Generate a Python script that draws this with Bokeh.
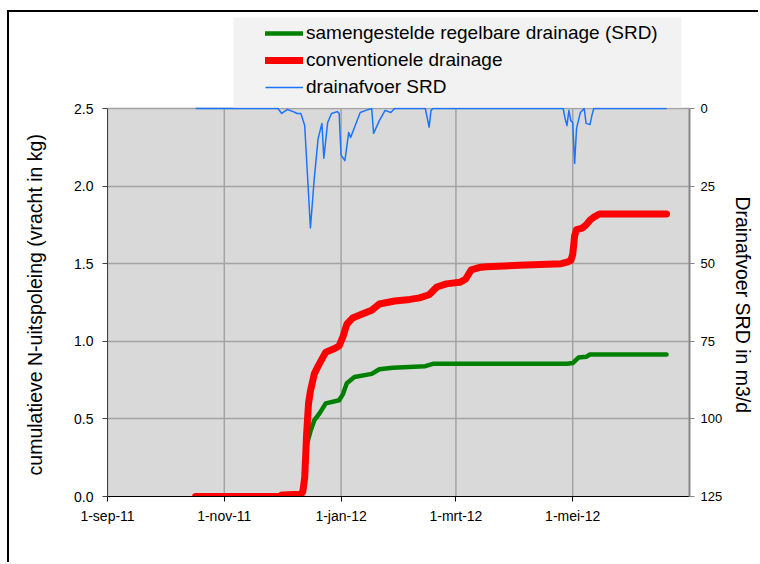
import pandas as pd
from bokeh.plotting import figure
from bokeh.models import (LinearAxis, Range1d, FixedTicker, Legend, LegendItem,
                          BoxAnnotation, NumeralTickFormatter)
from bokeh.embed import file_html
from bokeh.resources import INLINE

# ---------------- data ----------------
srd_dates = ["2011-10-17", "2011-11-30", "2011-12-01", "2011-12-11", "2011-12-12",
             "2011-12-13", "2011-12-14", "2011-12-16", "2011-12-18", "2011-12-21",
             "2011-12-24", "2011-12-31", "2012-01-02", "2012-01-04", "2012-01-08",
             "2012-01-17", "2012-01-21", "2012-01-28", "2012-02-14", "2012-02-18",
             "2012-04-28", "2012-05-01", "2012-05-04", "2012-05-08", "2012-05-10",
             "2012-06-19"]
srd_values = [0.0, 0.0, 0.01, 0.015, 0.03,
              0.12, 0.33, 0.42, 0.49, 0.54,
              0.60, 0.62, 0.66, 0.73, 0.77,
              0.79, 0.82, 0.83, 0.84, 0.855,
              0.855, 0.86, 0.895, 0.90, 0.915,
              0.915]

conv_dates = ["2011-10-17", "2011-11-30", "2011-12-01", "2011-12-11", "2011-12-12",
              "2011-12-13", "2011-12-14", "2011-12-15", "2011-12-16", "2011-12-18",
              "2011-12-20", "2011-12-24", "2011-12-28", "2011-12-31", "2012-01-02",
              "2012-01-04", "2012-01-07", "2012-01-13", "2012-01-17", "2012-01-21",
              "2012-01-29", "2012-02-06", "2012-02-11", "2012-02-16", "2012-02-20",
              "2012-02-25", "2012-03-03", "2012-03-06", "2012-03-09", "2012-03-13",
              "2012-03-17", "2012-04-03", "2012-04-25", "2012-04-28", "2012-04-30",
              "2012-05-01", "2012-05-02", "2012-05-03", "2012-05-06", "2012-05-08",
              "2012-05-10", "2012-05-12", "2012-05-15", "2012-06-19"]
conv_values = [0.0, 0.0, 0.01, 0.015, 0.03,
               0.12, 0.40, 0.60, 0.68, 0.79,
               0.84, 0.93, 0.95, 0.97, 1.03,
               1.11, 1.15, 1.18, 1.20, 1.24,
               1.26, 1.27, 1.28, 1.30, 1.35,
               1.37, 1.38, 1.40, 1.46, 1.475,
               1.48, 1.49, 1.50, 1.51, 1.52,
               1.56, 1.68, 1.72, 1.73, 1.75,
               1.78, 1.80, 1.82, 1.82]

flow_dates = ["2011-10-17", "2011-11-29", "2011-12-01", "2011-12-04", "2011-12-07",
              "2011-12-09", "2011-12-11", "2011-12-13", "2011-12-16", "2011-12-18",
              "2011-12-20", "2011-12-22", "2011-12-23", "2011-12-25", "2011-12-27",
              "2011-12-30", "2011-12-31", "2012-01-01", "2012-01-03", "2012-01-05",
              "2012-01-06", "2012-01-09", "2012-01-11", "2012-01-14", "2012-01-17",
              "2012-01-18", "2012-01-21", "2012-01-24", "2012-01-27", "2012-01-29",
              "2012-02-14", "2012-02-16", "2012-02-17", "2012-02-18", "2012-04-26",
              "2012-04-27", "2012-04-28", "2012-04-29", "2012-04-30", "2012-05-01",
              "2012-05-02", "2012-05-03", "2012-05-05", "2012-05-07", "2012-05-08",
              "2012-05-10", "2012-05-11", "2012-05-12", "2012-06-19"]
flow_values = [0.0, 0.0, 1.6, 0.3, 1.0,
               1.6, 1.6, 5.5, 38.5, 22.6,
               9.7, 4.8, 16.0, 4.5, 1.6,
               1.0, 1.6, 15.0, 16.8, 7.7,
               9.3, 4.5, 1.3, 0.6, 0.0,
               8.0, 3.9, 0.6, 1.3, 0.0,
               0.0, 6.0, 0.6, 0.0, 0.0,
               3.2, 5.5, 0.6, 3.9, 4.5,
               17.7, 6.4, 1.3, 0.0, 4.8,
               5.2, 2.3, 0.0, 0.0]

x_start, x_end = "2011-09-01", "2012-07-01"
x_tick_dates = ["2011-09-01", "2011-11-01", "2012-01-01", "2012-03-01", "2012-05-01"]
x_tick_labels = ["1-sep-11", "1-nov-11", "1-jan-12", "1-mrt-12", "1-mei-12"]
y_ticks = [0.0, 0.5, 1.0, 1.5, 2.0, 2.5]
y2_ticks = [0, 25, 50, 75, 100, 125]

legend_labels = ["samengestelde regelbare drainage (SRD)", "conventionele drainage",
                 "drainafvoer SRD"]
y_label = "cumulatieve N-uitspoleing (vracht in kg)"
y2_label = "Drainafvoer SRD in m3/d"


def ms(d):
    return int(pd.Timestamp(d).value // 10**6)


FONT = "Liberation Sans"
PAD = "\u00a0" * 18   # keeps the axis titles centred on the grey plot area

# ---------------- layout geometry (pixels) ----------------
FRAME_H = 481      # frame spans the legend area plus the plot area
PLOT_H = 388       # height of the grey plot area
y_top = y_ticks[-1] * FRAME_H / PLOT_H
q_top = -y2_ticks[-1] * (FRAME_H - PLOT_H) / PLOT_H

p = figure(width=751, height=552, output_backend="svg", toolbar_location=None,
           x_axis_type="datetime",
           x_range=Range1d(ms(x_start), ms(x_end)), y_range=Range1d(0, y_top),
           min_border_left=98, min_border_right=71, min_border_top=3,
           min_border_bottom=68,
           styles={"border-left": "2px solid black", "border-top": "2px solid black",
                   "margin-left": "7px", "margin-top": "10px"})
p.background_fill_color = "white"
p.border_fill_color = "white"
p.outline_line_color = None

p.extra_y_ranges = {"q": Range1d(y2_ticks[-1], q_top)}

# grey plot area
p.add_layout(BoxAnnotation(left=ms(x_start), right=ms(x_end),
                           bottom=y_ticks[0], top=y_ticks[-1],
                           fill_color="#d9d9d9", fill_alpha=1, line_color=None,
                           level="image"))

# x axis
xt = FixedTicker(ticks=[ms(d) for d in x_tick_dates])
p.xaxis.ticker = xt
p.xaxis.major_label_overrides = {ms(d): l for d, l in zip(x_tick_dates, x_tick_labels)}
p.xaxis.axis_line_color = "black"
p.xaxis.major_tick_line_color = "black"
p.xaxis.major_tick_out = 5
p.xaxis.major_tick_in = 0
p.xaxis.minor_tick_line_color = None
p.xaxis.major_label_standoff = 6
p.xaxis.major_label_text_font = FONT
p.xaxis.major_label_text_font_size = "14px"
p.xaxis.major_label_text_color = "black"
p.xgrid.visible = False

# vertical grid lines limited to the plot area
n = len(x_tick_dates)
p.segment(x0=[ms(d) for d in x_tick_dates], y0=[y_ticks[0]] * n,
          x1=[ms(d) for d in x_tick_dates], y1=[y_ticks[-1]] * n,
          line_color="#a3a3a3", line_width=1.5, level="underlay")

# left axis
yt = FixedTicker(ticks=y_ticks)
p.yaxis.ticker = yt
p.ygrid.ticker = yt
p.yaxis.bounds = (y_ticks[0], y_ticks[-1])
p.yaxis.formatter = NumeralTickFormatter(format="0.0")
p.yaxis.axis_label = y_label + PAD
p.yaxis.axis_label_text_font = FONT
p.yaxis.axis_label_text_font_size = "19.5px"
p.yaxis.axis_label_text_font_style = "normal"
p.yaxis.axis_label_text_color = "black"
p.yaxis.axis_label_standoff = 25
p.yaxis.axis_line_color = "#404040"
p.yaxis.major_tick_line_color = "#404040"
p.yaxis.major_tick_out = 5
p.yaxis.major_tick_in = 0
p.yaxis.minor_tick_line_color = None
p.yaxis.major_label_standoff = 9
p.yaxis.major_label_text_font = FONT
p.yaxis.major_label_text_font_size = "14px"
p.yaxis.major_label_text_color = "black"

p.ygrid.grid_line_color = "#a3a3a3"
p.ygrid.grid_line_width = 1.5

# right axis
ax2 = LinearAxis(y_range_name="q", ticker=FixedTicker(ticks=y2_ticks),
                 bounds=(y2_ticks[0], y2_ticks[-1]),
                 axis_label=PAD + y2_label)
ax2.axis_label_text_font = FONT
ax2.axis_label_text_font_size = "19.5px"
ax2.axis_label_text_font_style = "normal"
ax2.axis_label_text_color = "black"
ax2.axis_label_standoff = 7
ax2.axis_line_color = "#868686"
ax2.axis_line_width = 2
ax2.major_tick_line_color = "#868686"
ax2.major_tick_out = 5
ax2.major_tick_in = 0
ax2.minor_tick_line_color = None
ax2.major_label_standoff = 6
ax2.major_label_text_font = FONT
ax2.major_label_text_font_size = "13px"
ax2.major_label_text_color = "black"
p.add_layout(ax2, "right")

# series
g = p.line([ms(d) for d in srd_dates], srd_values, line_color="#008000",
           line_width=4.5, line_join="round", line_cap="round")
r = p.line([ms(d) for d in conv_dates], conv_values, line_color="#ff0000",
           line_width=7, line_join="round", line_cap="round")
b = p.line([ms(d) for d in flow_dates], flow_values, line_color="#1a74ff",
           line_width=1.5, line_join="round", y_range_name="q")

# legend background
p.add_layout(BoxAnnotation(left=222, right=670, top=3, bottom=93,
                           left_units="canvas", right_units="canvas",
                           top_units="canvas", bottom_units="canvas",
                           fill_color="#f2f2f2", fill_alpha=1, line_color=None))

legend = Legend(items=[LegendItem(label=legend_labels[0], renderers=[g]),
                       LegendItem(label=legend_labels[1], renderers=[r]),
                       LegendItem(label=legend_labels[2], renderers=[b])],
                location=(158, 398), padding=0, margin=0,
                background_fill_alpha=0, border_line_color=None,
                glyph_width=38, glyph_height=22, label_height=22, spacing=5,
                label_standoff=3, label_text_font=FONT,
                label_text_font_size="19px", label_text_color="black")
p.add_layout(legend)

open("out.html", "w").write(file_html(p, INLINE))
